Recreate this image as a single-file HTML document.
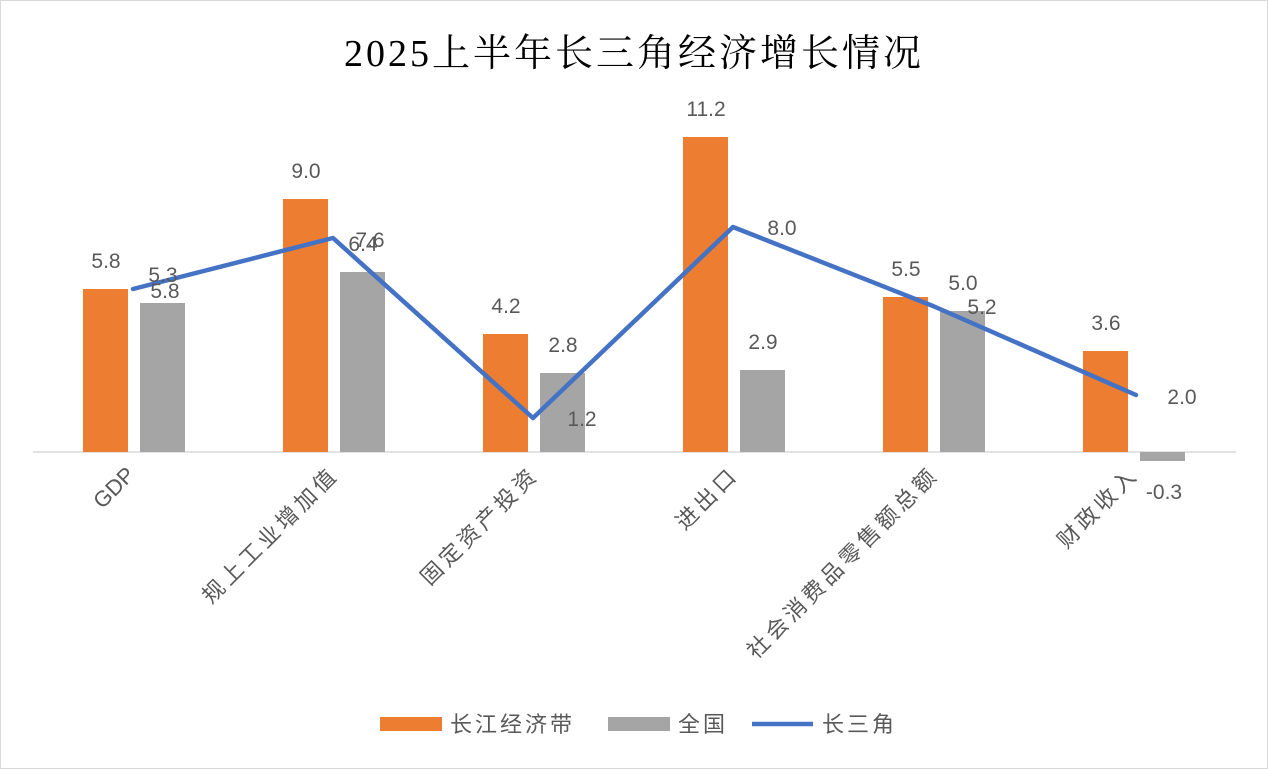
<!DOCTYPE html>
<html><head><meta charset="utf-8"><style>
body{margin:0;background:#fff}
svg text{font-family:"Liberation Sans","Noto Sans CJK SC",sans-serif;fill:#595959;font-size:21px}
</style></head><body>
<svg width="1268" height="769" viewBox="0 0 1268 769" xmlns="http://www.w3.org/2000/svg">
<rect x="0.5" y="0.5" width="1267" height="768" fill="#fff" stroke="#d9d9d9"/>
<text x="634" y="66" text-anchor="middle" style="font-family:'Liberation Serif','Noto Serif CJK SC',serif;font-size:38px;letter-spacing:3px;fill:#000">2025上半年长三角经济增长情况</text>
<line x1="33" y1="452" x2="1236" y2="452" stroke="#d9d9d9" stroke-width="1.5"/>
<g fill="#ed7d31">
<rect x="83" y="289" width="45" height="163"/>
<rect x="283" y="199" width="45" height="253"/>
<rect x="483" y="334" width="45" height="118"/>
<rect x="683" y="137" width="45" height="315"/>
<rect x="883" y="297" width="45" height="155"/>
<rect x="1083" y="351" width="45" height="101"/>
</g>
<g fill="#a5a5a5">
<rect x="140" y="303" width="45" height="149"/>
<rect x="340" y="272" width="45" height="180"/>
<rect x="540" y="373" width="45" height="79"/>
<rect x="740" y="370" width="45" height="82"/>
<rect x="940" y="311" width="45" height="141"/>
<rect x="1140" y="452" width="45" height="9"/>
</g>
<polyline points="133,289 333,238 533,418 733,227 933,306 1136,395" fill="none" stroke="#4472c4" stroke-width="4.5" stroke-linejoin="round" stroke-linecap="round"/>
<g text-anchor="middle">
<text x="106" y="268">5.8</text><text x="306" y="178">9.0</text><text x="506" y="313">4.2</text>
<text x="706" y="116">11.2</text><text x="906" y="276">5.5</text><text x="1106" y="330">3.6</text>
<text x="163" y="282">5.3</text><text x="363" y="251">6.4</text><text x="563" y="352">2.8</text>
<text x="763" y="349">2.9</text><text x="963" y="290">5.0</text><text x="1164" y="499">-0.3</text>
<text x="165" y="298">5.8</text><text x="370" y="247">7.6</text><text x="582" y="426">1.2</text>
<text x="782" y="235">8.0</text><text x="982" y="314">5.2</text><text x="1182" y="404">2.0</text>
</g>
<g text-anchor="end" style="font-size:22px;letter-spacing:4px">
<text transform="translate(136,476) rotate(-45)" style="font-size:22px;letter-spacing:0">GDP</text>
<text transform="translate(340,476) rotate(-45)" style="font-size:22px">规上工业增加值</text>
<text transform="translate(540,476) rotate(-45)" style="font-size:22px">固定资产投资</text>
<text transform="translate(740,476) rotate(-45)" style="font-size:22px">进出口</text>
<text transform="translate(940,476) rotate(-45)" style="font-size:22px">社会消费品零售额总额</text>
<text transform="translate(1140,476) rotate(-45)" style="font-size:22px">财政收入</text>
</g>
<g style="letter-spacing:3px">
<rect x="380" y="717" width="62" height="14" fill="#ed7d31"/>
<text x="450" y="732" style="font-size:22px">长江经济带</text>
<rect x="608" y="717" width="62" height="14" fill="#a5a5a5"/>
<text x="678" y="732" style="font-size:22px">全国</text>
<line x1="752" y1="724" x2="813" y2="724" stroke="#4472c4" stroke-width="4.5"/>
<text x="822" y="732" style="font-size:22px">长三角</text>
</g>
</svg>
</body></html>
